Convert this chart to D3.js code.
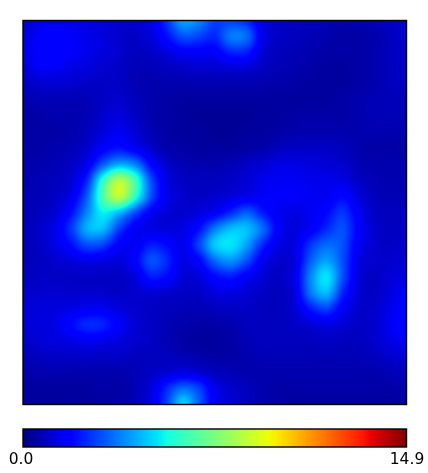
<!DOCTYPE html>
<html><head><meta charset="utf-8">
<script src="https://cdnjs.cloudflare.com/ajax/libs/d3/7.8.5/d3.min.js"></script>
<style>html,body{margin:0;padding:0;background:#fff}#c{position:absolute;left:0;top:0}svg{position:absolute;left:0;top:0}</style>
</head><body><canvas id="c" width="428" height="473"></canvas><svg id="s" width="428" height="473"></svg>
<script>
const density = [
[1.0,1.3,1.4,1.3,1.2,1.1,1.0,1.0,1.3,2.6,4.2,3.8,2.8,2.8,2.4,1.2,.9,.8,.7,.7,.6,.6,.7,.9,1.0],
[1.2,1.6,1.8,1.6,1.4,1.2,1.0,.9,1.2,2.0,3.0,2.8,2.4,3.6,3.4,1.4,.9,.8,.7,.6,.5,.5,.6,.8,1.0],
[1.3,1.7,1.8,1.6,1.4,1.2,1.0,.8,.9,1.2,1.6,1.6,1.6,2.3,2.2,1.1,.8,.7,.6,.5,.5,.5,.6,.8,.9],
[1.1,1.5,1.5,1.3,1.2,1.0,.9,.7,.7,.8,.9,1,1,1.1,1.1,.8,.7,.6,.5,.4,.4,.5,.6,.8,.9],
[.8,1.0,1,1,.9,.9,.9,.7,.6,.6,.6,.6,.6,.6,.6,.6,.5,.5,.4,.4,.4,.5,.6,.8,.8],
[.6,.7,.7,.7,.7,.9,1.0,.8,.6,.5,.4,.4,.4,.4,.4,.4,.4,.4,.4,.4,.5,.6,.7,.7,.7],
[.5,.5,.6,.6,.7,1.0,1.2,.9,.6,.5,.4,.3,.3,.3,.3,.4,.4,.5,.5,.5,.5,.6,.7,.7,.7],
[.5,.5,.5,.6,.8,1.2,1.5,1.1,.7,.5,.4,.4,.3,.3,.4,.4,.5,.6,.6,.6,.6,.6,.6,.6,.6],
[.5,.5,.6,.7,1.0,1.7,2.1,1.6,1.0,.6,.5,.4,.4,.4,.5,.6,.8,.9,.9,.9,.8,.6,.5,.5,.5],
[.6,.6,.7,.9,1.5,3.2,4.4,3.8,1.9,1.0,.7,.6,.6,.7,.9,1.1,1.3,1.3,1.2,1.1,1.0,.7,.6,.6,.6],
[.6,.7,.8,1.1,2.4,6.0,8.4,6.4,3.0,1.3,.9,.8,.8,.9,1.1,1.4,1.5,1.5,1.4,1.4,1.3,.9,.7,.6,.6],
[.7,.7,.9,1.4,3.2,6.6,8.6,6.0,3.0,1.4,1.0,.9,1.0,1.2,1.4,1.6,1.6,1.6,1.5,1.5,1.9,1.2,.8,.7,.7],
[.7,.8,1.1,2.0,3.8,5.4,4.6,3.0,1.6,1.1,1.0,1.2,1.6,2.4,3.2,2.2,1.5,1.3,1.5,1.9,2.6,1.5,.9,.8,.8],
[.7,.9,1.4,2.6,4.4,4.6,2.8,1.6,1.3,1.2,1.3,2.0,3.6,4.6,4.6,3.4,1.6,1.2,1.6,2.4,3.0,1.7,1.0,.8,.9],
[.7,.9,1.3,2.0,3.0,2.8,1.7,1.5,2.2,1.9,1.4,2.8,4.8,5.2,4.2,2.4,1.3,1.3,2.6,3.4,3.0,1.5,1.0,.9,1.0],
[.7,.8,1.0,1.2,1.4,1.3,1.2,1.7,3.0,2.4,1.3,1.8,3.4,4.0,3.0,1.5,1.0,1.3,3.2,4.2,3.0,1.3,1.0,1.0,1.1],
[.8,.9,.9,.9,.9,.9,.9,1.2,2.2,1.9,1.1,1.2,1.9,2.2,1.6,1.1,.9,1.4,3.8,5.2,3.0,1.2,.9,1.1,1.3],
[.9,1.0,1.0,1.0,1.0,1.0,.9,1.0,1.1,1.0,.9,.9,1.2,1.3,1.1,.9,.8,1.3,3.6,4.6,2.4,1.1,.9,1.2,1.6],
[1.1,1.2,1.2,1.3,1.5,1.5,1.2,1.0,.9,.8,.7,.7,.8,.9,.9,.8,.8,1.1,2.2,2.8,1.6,1.0,1.0,1.4,1.8],
[1.1,1.2,1.3,1.9,2.4,2.3,1.6,1.1,.9,.7,.6,.5,.5,.6,.8,.8,.8,.9,1.1,1.3,1.1,.9,1.0,1.5,1.8],
[.9,1.1,1.2,1.3,1.5,1.4,1.2,1.0,.9,.7,.5,.4,.4,.5,.7,.8,.8,.8,.8,.9,.8,.8,1.0,1.3,1.5],
[.7,.8,.9,.9,.9,.9,.9,.8,.8,.8,.7,.6,.5,.5,.6,.7,.7,.7,.7,.7,.7,.7,.8,1.0,1.1],
[.5,.6,.6,.6,.6,.6,.6,.7,.9,1.1,1.3,1.1,.8,.7,.6,.6,.6,.6,.6,.6,.6,.6,.6,.7,.8],
[.4,.4,.4,.4,.4,.5,.5,.7,1.2,2.4,3.4,2.8,1.4,1.0,.8,.6,.5,.5,.5,.5,.5,.5,.5,.5,.6],
[.4,.4,.4,.4,.4,.4,.5,.7,1.3,2.8,5.0,3.2,1.6,1.1,.8,.6,.5,.4,.4,.4,.4,.4,.4,.4,.5]
];
const colorbarTicks = [0, 14.9];
const tickLabels = ["0.0", "14.9"];
const jetR = [[0,0],[.35,0],[.66,255],[.89,255],[1,128]];
const jetG = [[0,0],[.125,0],[.375,255],[.64,255],[.91,0],[1,0]];
const jetB = [[0,128],[.11,255],[.34,255],[.65,0],[1,0]];

const left=23,right=406.5,top_=20.5,bottom=404.5,barTop=429,barBottom=447;
const n=density.length, m=density[0].length;
const x=d3.scaleLinear().domain([0,m-1]).range([left,right]);
const y=d3.scaleLinear().domain([0,n-1]).range([top_,bottom]);
const v=d3.scaleLinear().domain(colorbarTicks).range([0,1]).clamp(true);
const ch=s=>d3.scaleLinear().domain(s.map(d=>d[0])).range(s.map(d=>d[1]));
const R=ch(jetR),G=ch(jetG),B=ch(jetB);

function cr(a,b,c,d,t){return 0.5*(2*b+(c-a)*t+(2*a-5*b+4*c-d)*t*t+(3*b-a-3*c+d)*t*t*t);}
const at=(j,i)=>density[Math.max(0,Math.min(n-1,j))][Math.max(0,Math.min(m-1,i))];
function sample(fx,fy){
  const i=Math.min(m-2,Math.floor(fx)),j=Math.min(n-2,Math.floor(fy)),tx=fx-i,ty=fy-j;
  const r=[-1,0,1,2].map(o=>cr(at(j+o,i-1),at(j+o,i),at(j+o,i+1),at(j+o,i+2),tx));
  return cr(r[0],r[1],r[2],r[3],ty);
}
const ctx=document.getElementById('c').getContext('2d');
const x0=Math.round(left),y0=Math.round(top_),w=Math.round(right-left),h=Math.round(bottom-top_);
const img=ctx.createImageData(w,h);
for(let py=0;py<h;py++)for(let px=0;px<w;px++){
  const t=v(sample(x.invert(x0+px+.5),y.invert(y0+py+.5)));
  const k=(py*w+px)*4;
  img.data[k]=R(t);img.data[k+1]=G(t);img.data[k+2]=B(t);img.data[k+3]=255;
}
ctx.putImageData(img,x0,y0);

const svg=d3.select('#s');
const bx=d3.scaleLinear().domain(colorbarTicks).range([left,right]);
const levels=d3.range(256);
const lv=d3.scaleLinear().domain([0,256]).range(colorbarTicks);
svg.append('g').selectAll('rect').data(levels).join('rect')
  .attr('x',d=>bx(lv(d))).attr('y',barTop)
  .attr('width',d=>bx(lv(d+1))-bx(lv(d))+(d<255?.6:0)).attr('height',barBottom-barTop)
  .attr('shape-rendering','crispEdges')
  .attr('fill',d=>{const t=d/255;return `rgb(${R(t)|0},${G(t)|0},${B(t)|0})`;});
const frame=(yy,hh)=>svg.append('rect').attr('x',left).attr('y',yy).attr('width',right-left).attr('height',hh)
  .attr('fill','none').attr('stroke','#000').attr('stroke-width',1.4);
frame(top_,bottom-top_);frame(barTop,barBottom-barTop);
const axis=svg.append('g').attr('transform',`translate(0,${barBottom})`)
  .call(d3.axisBottom(bx).tickValues(colorbarTicks).tickSize(0).tickPadding(6).tickFormat((d,i)=>tickLabels[i]));
axis.select('.domain').remove();
axis.selectAll('text').attr('fill','#000').attr('dx',(d,i)=>i?0:-2.5)
  .style('font-family','"DejaVu Sans"').style('font-size','15.5px');
</script></body></html>
